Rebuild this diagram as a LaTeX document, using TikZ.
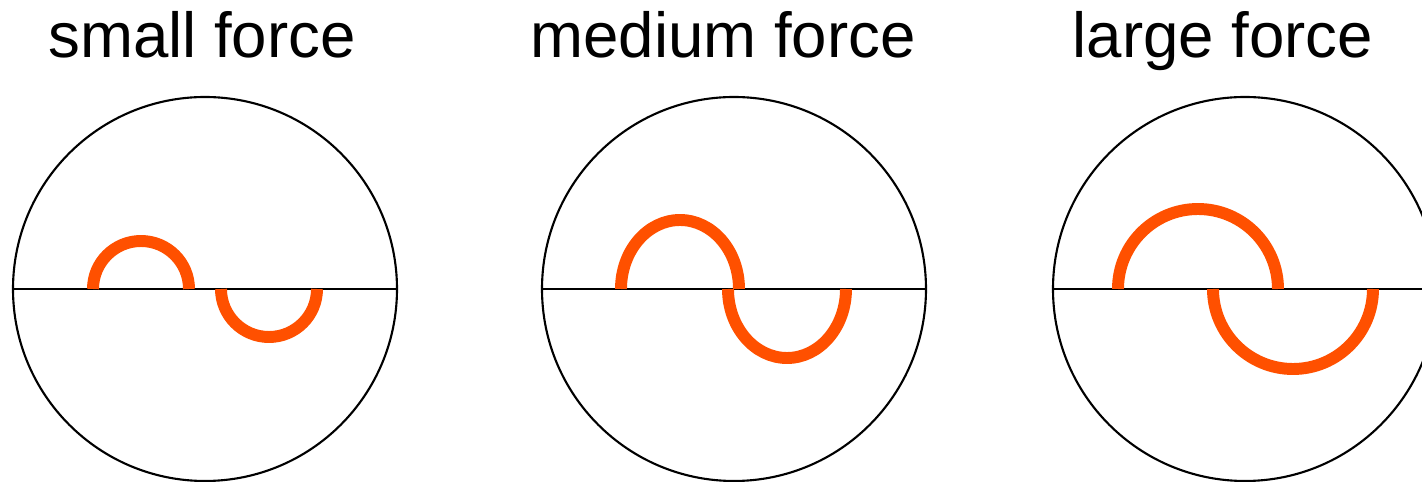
\documentclass[tikz,border=0pt]{standalone}
\usepackage{fontspec}
\setmainfont{Liberation Sans}
\definecolor{fOrange}{RGB}{255,80,0}

\begin{document}
\begin{tikzpicture}[
  dial/.style={circle, draw, line width=0.6pt, minimum size=3.84cm, inner sep=0pt, outer sep=0pt},
  axis/.style={line width=0.6pt},
  wave/.style={fOrange, line width=3.4pt},
  lbl/.style={anchor=base, font=\fontsize{18.1}{21}\selectfont}]
  \useasboundingbox (0,0) rectangle (14.22,4.82);

  % small force
  \node[dial] (dSmall) at (2.05,1.93) {};
  \draw[axis] (dSmall.west) -- (dSmall.east);
  \draw[wave] (0.93,1.93) arc[start angle=180, end angle=0, radius=0.48];
  \draw[wave] (2.21,1.93) arc[start angle=180, end angle=360, radius=0.48];
  \node[lbl] (tSmall) at (2.02,4.24) {small force};

  % medium force
  \node[dial] (dMedium) at (7.34,1.93) {};
  \draw[axis] (dMedium.west) -- (dMedium.east);
  \draw[wave] (6.21,1.93) arc[start angle=180, end angle=0, x radius=0.59, y radius=0.69];
  \draw[wave] (7.28,1.93) arc[start angle=180, end angle=360, x radius=0.59, y radius=0.69];
  \node[lbl] (tMedium) at (7.23,4.24) {medium force};

  % large force
  \node[dial] (dLarge) at (12.45,1.93) {};
  \draw[axis] (dLarge.west) -- (dLarge.east);
  \draw[wave] (11.18,1.93) arc[start angle=180, end angle=0, radius=0.80];
  \draw[wave] (12.13,1.93) arc[start angle=180, end angle=360, radius=0.80];
  \node[lbl] (tLarge) at (12.23,4.24) {large force};
\end{tikzpicture}
\end{document}
